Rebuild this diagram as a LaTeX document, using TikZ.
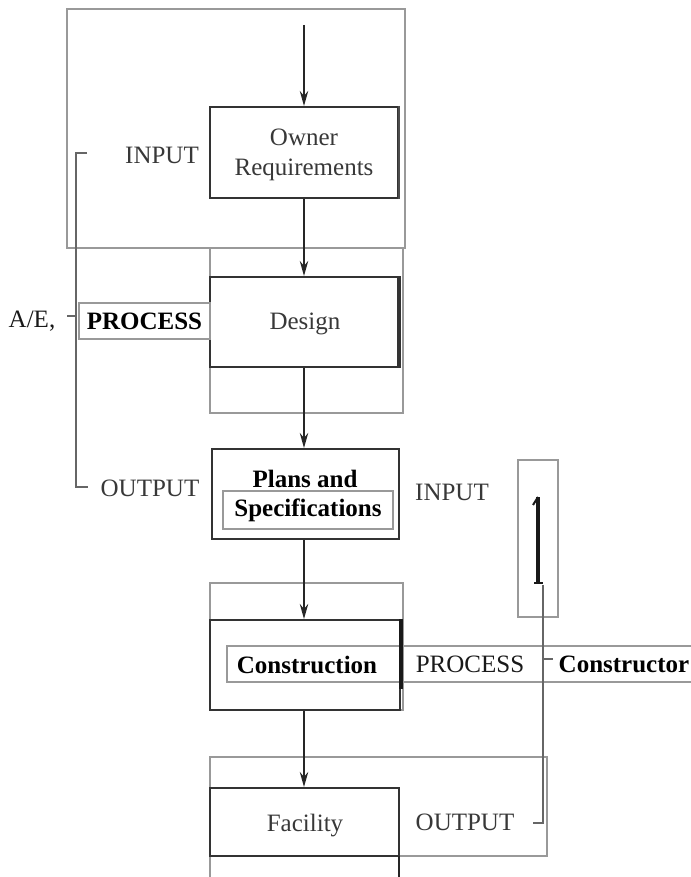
\documentclass[tikz,border=0pt]{standalone}
\usepackage{fontspec}
\setmainfont{Liberation Serif}
\usetikzlibrary{arrows.meta}
\begin{document}
\begin{tikzpicture}[x=0.5pt,y=-0.5pt,
  grey/.style={draw=black!40, line width=0.6pt},
  mainbox/.style={draw=black!80, line width=1pt, inner sep=0pt},
  txt/.style={inner sep=0pt, text=black!78, font=\fontsize{12.5}{15}\selectfont},
  btxt/.style={inner sep=0pt, text=black, font=\fontsize{12.5}{15}\selectfont\bfseries},
  arr/.style={draw=black!85, line width=1pt, -{Stealth[length=7.5pt,width=4.2pt]}},
  brk/.style={draw=black!60, line width=0.9pt}
]
\useasboundingbox (0,0) rectangle (690,877);
% grey frames
\draw[grey] (67,9) rectangle (405,248);
\draw[grey] (210,248) rectangle (403,413);
\draw[grey] (210,583) rectangle (403,710);
\draw[grey] (518,460) rectangle (558,617);
\draw[grey] (210,757) rectangle (547,856);
\draw[grey] (210,856) rectangle (399,880);
\draw[grey] (227,646) rectangle (692,682);

% main boxes
\node[mainbox, minimum width=94pt, minimum height=45.5pt] (owner) at (304,152.5) {};
\node[txt, align=center] (ownerT) at (304,155) {Owner\\Requirements};
\node[mainbox, minimum width=94pt, minimum height=45pt] (design) at (304,322) {};
\node[txt] (designT) at (305,324) {Design};
\node[mainbox, minimum width=93.5pt, minimum height=45pt] (plans) at (305.5,494) {};
\node[btxt] (plansT) at (305,479) {Plans and};
\node[grey, inner sep=0pt, minimum width=85pt, minimum height=19pt, btxt] (specs) at (308,510) {Specifications};
\node[mainbox, minimum width=95pt, minimum height=45pt] (constr) at (305,665) {};
\node[btxt] (constrT) at (307,665) {Construction};
\node[mainbox, minimum width=94.5pt, minimum height=34pt] (facility) at (304.5,822) {};
\node[txt] (facilityT) at (305,826) {Facility};

% heavy right edges (shadows)
\draw[draw=black!80, line width=1.8pt] (design.north east) -- (design.south east);
\draw[draw=black!90, line width=1.8pt] (constr.north east) -- ([yshift=11pt]constr.south east);
\draw[draw=black!70, line width=1.2pt] (owner.north east) -- (owner.south east);
\draw[draw=black!85, line width=1.2pt] (399,856) -- (399,880);

% left labels
\node[txt] (inL) at (162,155) {INPUT};
\node[grey, btxt, minimum width=65.5pt, minimum height=18pt] (procL) at (144.5,321) {PROCESS};
\node[txt, text=black!90] (ae) at (32,321) {A/E,};
\node[txt] (outL) at (150,488) {OUTPUT};

% right labels
\node[txt] (inR) at (452,492) {INPUT};
\node[txt, text=black!90] (procR) at (470,664) {PROCESS};
\node[btxt] (constructor) at (624,664) {Constructor};
\node[txt] (outR) at (465,822) {OUTPUT};

% arrows
\coordinate (start) at (304,25);
\draw[arr] (start) -- (owner.north);
\draw[arr] (owner.south) -- (design.north);
\draw[arr] (design.south) -- (plans.north -| design.south);
\draw[arr] (plans.south -| design.south) -- (constr.north -| design.south);
\draw[arr] (constr.south -| design.south) -- (facility.north -| design.south);

% left bracket
\coordinate (lb1) at (87,153);
\coordinate (lb2) at (76,153);
\coordinate (lb3) at (76,487);
\coordinate (lb4) at (88,487);
\draw[brk] (lb1) -- (lb2) -- (lb3) -- (lb4);
\draw[brk] (67,316) -- (76,316);

% right glyph and line
\draw[draw=black!90, line width=1.8pt] (538,497) -- (538,583);
\draw[draw=black!90, line width=1pt] (533,505) -- (538,497);
\draw[draw=black!90, line width=1pt] (534,583) -- (543,583);
\coordinate (rt) at (543,585);
\coordinate (rb) at (543,823);
\draw[brk] (rt) -- (rb) -- ++(-10,0);
\draw[brk] (543,659) -- (553,659);
\end{tikzpicture}
\end{document}
